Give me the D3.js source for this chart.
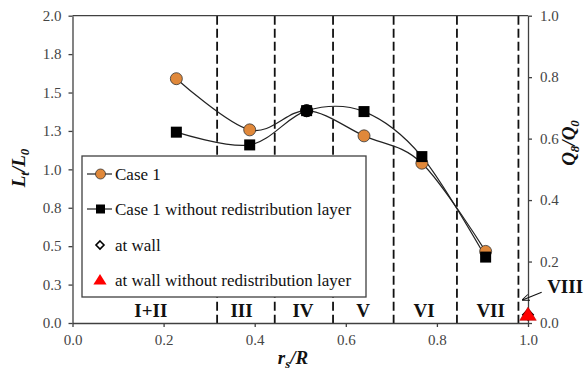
<!DOCTYPE html>
<html>
<head>
<meta charset="utf-8">
<script src="https://cdn.jsdelivr.net/npm/d3@7"></script>
<style>
  body { margin: 0; background: #fff; }
</style>
</head>
<body>
<div id="chart"></div>
<script>
// radial position r_s/R
var rs = [0.228, 0.389, 0.514, 0.640, 0.767, 0.907];
// L_t/L_0 for the two cases
var case1 = [1.59, 1.257, 1.382, 1.218, 1.040, 0.466];
var noRedist = [1.242, 1.159, 1.382, 1.376, 1.083, 0.429];
// the wall points (right axis, Q_s/Q_0)
var wallR = [1.0];
var atWall = [0.027];
var atWallNoRedist = [0.027];

// zone borders and labels
var zoneBorders = [0.3175, 0.444, 0.572, 0.705, 0.844, 0.979];
var zoneNames = ["I+II", "III", "IV", "V", "VI", "VII"];
var zoneCenters = [0.172, 0.371, 0.506, 0.638, 0.772, 0.918];

var leftTicks = [0, 0.25, 0.5, 0.75, 1.0, 1.25, 1.5, 1.75, 2.0];
var leftTickLabels = ["0.0", "0.3", "0.5", "0.8", "1.0", "1.3", "1.5", "1.8", "2.0"];
var rightTicks = [0, 0.2, 0.4, 0.6, 0.8, 1.0];
var xTicks = [0, 0.2, 0.4, 0.6, 0.8, 1.0];

var legendNames = ["Case 1", "Case 1 without redistribution layer", "at wall", "at wall without redistribution layer"];

var W = 584, H = 373;
var margin = {top: 15.7, right: 56, bottom: 50, left: 72.5},
    width = W - margin.left - margin.right,
    height = H - margin.top - margin.bottom;

var serif = "Liberation Serif";
var orange = "#E0883A";
var axisCol = "#404040";
var tickTextCol = "#454545";

var root = d3.select("#chart").append("svg")
    .attr("width", W)
    .attr("height", H)
    .attr("font-family", serif);

var svg = root.append("g")
    .attr("transform", "translate(" + margin.left + "," + margin.top + ")");

var x = d3.scaleLinear().domain([0, 1]).range([0, width]);
var y = d3.scaleLinear().domain([0, 2]).range([height, 0]);
var y2 = d3.scaleLinear().domain([0, 1]).range([height, 0]);

// dashed zone borders
svg.selectAll(".zone")
  .data(zoneBorders)
  .enter().append("line")
  .attr("x1", d => x(d)).attr("x2", d => x(d))
  .attr("y1", 0).attr("y2", height)
  .attr("stroke", "#111")
  .attr("stroke-width", 1.8)
  .attr("stroke-dasharray", "9,4");

// top border
svg.append("line")
  .attr("x1", 0).attr("x2", width)
  .attr("y1", 0).attr("y2", 0)
  .attr("stroke", axisCol).attr("stroke-width", 1.3);

// axes
function styleAxis(g) {
  g.attr("font-family", serif).attr("font-size", 15);
  g.select(".domain").attr("stroke", axisCol).attr("stroke-width", 1.3);
  g.selectAll(".tick line").attr("stroke", axisCol).attr("stroke-width", 1.3);
  g.selectAll(".tick text")
    .attr("font-family", serif)
    .attr("font-size", 15)
    .attr("fill", tickTextCol);
}

svg.append("g")
  .attr("transform", "translate(0," + height + ")")
  .call(d3.axisBottom(x).tickValues(xTicks).tickFormat(d3.format(".1f")).tickSize(4).tickSizeOuter(0).tickPadding(7))
  .call(styleAxis);

svg.append("g")
  .call(d3.axisLeft(y).tickValues(leftTicks)
    .tickFormat((d, i) => leftTickLabels[i]).tickSize(4).tickSizeOuter(0).tickPadding(7))
  .call(styleAxis);

svg.append("g")
  .attr("transform", "translate(" + width + ",0)")
  .call(d3.axisRight(y2).tickValues(rightTicks).tickFormat(d3.format(".1f")).tickSize(4).tickSizeOuter(0).tickPadding(8))
  .call(styleAxis);

// zone labels
svg.selectAll(".zname")
  .data(zoneNames)
  .enter().append("text")
  .attr("x", (d, i) => x(zoneCenters[i]))
  .attr("y", height - 6)
  .attr("text-anchor", "middle")
  .attr("font-size", 19)
  .attr("font-weight", "bold")
  .attr("fill", "#111")
  .text(d => d);

// VIII label with arrow
svg.append("defs").append("marker")
  .attr("id", "arr")
  .attr("viewBox", "0 0 10 10")
  .attr("refX", 9).attr("refY", 5)
  .attr("markerWidth", 7).attr("markerHeight", 7)
  .attr("orient", "auto")
  .append("path").attr("d", "M0,1 L10,5 L0,9").attr("fill", "none").attr("stroke", "#111").attr("stroke-width", 1.3);

svg.append("line")
  .attr("x1", x(1.03)).attr("y1", y(0.2))
  .attr("x2", x(0.988)).attr("y2", y(0.15))
  .attr("stroke", "#111").attr("stroke-width", 1.1)
  .attr("marker-end", "url(#arr)");

svg.append("text")
  .attr("x", x(1.042))
  .attr("y", y(0.197))
  .attr("font-size", 19)
  .attr("font-weight", "bold")
  .attr("fill", "#111")
  .text("VIII");

// smoothed lines
var line = d3.line()
  .x((d, i) => x(rs[i]))
  .y(d => y(d))
  .curve(d3.curveCardinal.tension(0));

svg.append("path").datum(case1)
  .attr("d", line).attr("fill", "none")
  .attr("stroke", "#222").attr("stroke-width", 1.2);
svg.append("path").datum(noRedist)
  .attr("d", line).attr("fill", "none")
  .attr("stroke", "#222").attr("stroke-width", 1.2);

// markers: circles then squares
svg.selectAll(".c1")
  .data(case1)
  .enter().append("circle")
  .attr("cx", (d, i) => x(rs[i]))
  .attr("cy", d => y(d))
  .attr("r", 6)
  .attr("fill", orange)
  .attr("stroke", "#333")
  .attr("stroke-width", 0.8);

svg.selectAll(".sq")
  .data(noRedist)
  .enter().append("rect")
  .attr("x", (d, i) => x(rs[i]) - 5.5)
  .attr("y", d => y(d) - 5.5)
  .attr("width", 11).attr("height", 11)
  .attr("fill", "#000");

// where both series coincide the marker shows as a black disc
svg.selectAll(".both")
  .data(case1.map((d, i) => ({r: rs[i], v: d, same: d === noRedist[i]})).filter(d => d.same))
  .enter().append("circle")
  .attr("cx", d => x(d.r))
  .attr("cy", d => y(d.v))
  .attr("r", 6.5)
  .attr("fill", "#000");

// wall points
function diamond(cx, cy, s) {
  return "M" + cx + "," + (cy - s) + "L" + (cx + s) + "," + cy + "L" + cx + "," + (cy + s) + "L" + (cx - s) + "," + cy + "Z";
}
function tri(cx, cy, s) {
  return "M" + cx + "," + (cy - s) + "L" + (cx + s * 1.1) + "," + (cy + s * 0.75) + "L" + (cx - s * 1.1) + "," + (cy + s * 0.75) + "Z";
}
svg.selectAll(".wd")
  .data(atWall)
  .enter().append("path")
  .attr("d", (d, i) => diamond(x(wallR[i]), y2(d), 5))
  .attr("fill", "#fff").attr("stroke", "#000").attr("stroke-width", 1.8);

svg.selectAll(".wt")
  .data(atWallNoRedist)
  .enter().append("path")
  .attr("d", (d, i) => tri(x(wallR[i]), y2(d), 7.5))
  .attr("fill", "#FF0000").attr("stroke", "#C00000").attr("stroke-width", 0.6);

// axis titles
function title(sel, main1, sub1, main2, sub2) {
  sel.attr("text-anchor", "middle")
    .attr("font-size", 19).attr("font-weight", "bold").attr("font-style", "italic")
    .attr("fill", "#111");
  sel.append("tspan").text(main1);
  sel.append("tspan").attr("dy", 4).attr("font-size", 13).text(sub1);
  sel.append("tspan").attr("dy", -4).text(main2);
  if (sub2) sel.append("tspan").attr("dy", 4).attr("font-size", 13).text(sub2);
}

title(svg.append("text")
  .attr("transform", "translate(" + (25 - margin.left) + "," + (168 - margin.top) + ") rotate(-90)"),
  "L", "t", "/L", "0");

title(svg.append("text")
  .attr("transform", "translate(" + (575 - margin.left) + "," + (143 - margin.top) + ") rotate(-90)"),
  "Q", "8", "/Q", "0");

title(svg.append("text")
  .attr("x", 293 - margin.left)
  .attr("y", 364 - margin.top),
  "r", "s", "/R", null);

// legend
var lg = svg.append("g")
  .attr("transform", "translate(" + (82 - margin.left) + "," + (156 - margin.top) + ")");
lg.append("rect")
  .attr("width", 284).attr("height", 141)
  .attr("fill", "#fff").attr("stroke", axisCol).attr("stroke-width", 1.3);

var rowY = [18, 53, 89, 124];
var items = lg.selectAll(".li")
  .data(legendNames)
  .enter().append("g")
  .attr("transform", (d, i) => "translate(0," + rowY[i] + ")");

items.append("text")
  .attr("x", 33).attr("y", 5.5)
  .attr("font-size", 17)
  .attr("fill", "#111")
  .text(d => d);

items.filter((d, i) => i < 2).append("line")
  .attr("x1", 5).attr("x2", 30).attr("y1", 0).attr("y2", 0)
  .attr("stroke", "#222").attr("stroke-width", 1.2);

items.filter((d, i) => i === 0).append("circle")
  .attr("cx", 18.5).attr("r", 5).attr("fill", orange).attr("stroke", "#333").attr("stroke-width", 0.8);
items.filter((d, i) => i === 1).append("rect")
  .attr("x", 14).attr("y", -4.5).attr("width", 9).attr("height", 9).attr("fill", "#000");
items.filter((d, i) => i === 2).append("path")
  .attr("d", diamond(18, 0, 4)).attr("fill", "#fff").attr("stroke", "#000").attr("stroke-width", 1.6);
items.filter((d, i) => i === 3).append("path")
  .attr("d", tri(18, 0, 6)).attr("fill", "#FF0000");
</script>
</body>
</html>
